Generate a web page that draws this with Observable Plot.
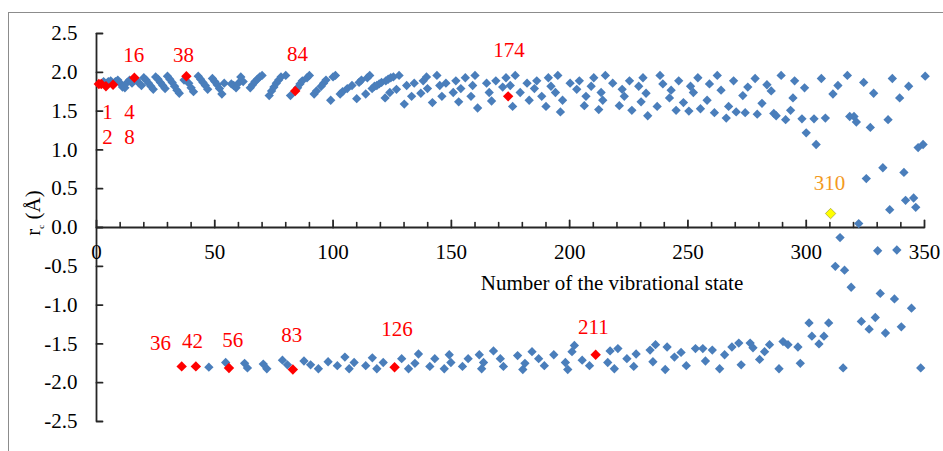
<!DOCTYPE html>
<html><head><meta charset="utf-8">
<script src="https://cdn.jsdelivr.net/npm/d3@7"></script>
<script src="https://cdn.jsdelivr.net/npm/@observablehq/plot@0.6"></script>
<style>
html,body{margin:0;padding:0;background:#fff;overflow:hidden;}
#wrap{position:relative;width:943px;height:451px;overflow:hidden;}
#frame{position:absolute;left:8px;top:12px;width:1000px;height:1000px;border:1.5px solid #8c8c8c;}
#chart{position:absolute;left:0;top:0;}
</style></head><body>
<div id="wrap"><div id="frame"></div><div id="chart"></div></div>
<script>
// ---- data (state number, r) ----
const upperBand = [
[3,1.88],[5,1.88],[6,1.89],[8,1.88],[9,1.90],[10,1.86],[11,1.81],[12,1.80],[13,1.87],[14,1.90],[15,1.86],[17,1.90],[18,1.86],[19,1.83],[20,1.93],[21,1.90],[22,1.86],[23,1.82],[24,1.78],[25,1.94],[26,1.91],[27,1.87],[28,1.83],[29,1.79],[30,1.95],[31,1.91],[32,1.87],[33,1.82],[34,1.77],[35,1.73],[37,1.90],[39,1.86],[40,1.80],[41,1.75],[43,1.95],[44,1.91],[45,1.87],[46,1.83],[47,1.78],[49,1.92],[50,1.88],[51,1.84],[52,1.79],[53,1.72],[54,1.86],[57,1.85],[58,1.83],[59,1.80],[60,1.86],[61,1.94],[62,1.88],[65,1.80],[66,1.84],[67,1.88],[68,1.91],[69,1.94],[70,1.96],[73,1.70],[74,1.76],[75,1.81],[76,1.86],[77,1.90],[78,1.94],[80,1.96],[82,1.70],[85,1.80],[86,1.85],[87,1.89],[89,1.93],[90,1.96],[92,1.72],[93,1.76],[95,1.82],[96,1.86],[97,1.90],[99,1.64],[100,1.94],[101,1.96],[103,1.72],[104,1.75],[106,1.79],[108,1.83],[110,1.66],[111,1.87],[112,1.90],[113.8,1.72],[114.5,1.93],[115.5,1.96],
[116.5,1.79],[117.5,1.82],[118.5,1.83],[119.5,1.85],[120.5,1.87],[122.3,1.89],[123.3,1.91],[124.4,1.93],[125.5,1.94],[127.9,1.96],[122,1.67],[124,1.74],[126.8,1.78],
[130.1,1.59],[131.1,1.83],[133.2,1.69],[134.3,1.86],[137.1,1.73],[138.1,1.89],[139.5,1.94],[139.9,1.79],[142,1.61],[143.9,1.96],[145.1,1.83],[146,1.69],[147.7,1.86],[150.8,1.74],[151.9,1.89],[153.1,1.62],[154,1.79],[155.9,1.93],[158.3,1.69],[159,1.83],[160,1.96],[161.1,1.54],[164.9,1.86],[166,1.74],[167,1.63],[168.8,1.89],[171.7,1.81],[173.1,1.93],[174.9,1.83],[175.9,1.56],[177,1.96],[179.1,1.74],[182,1.86],[182.9,1.64],[185.1,1.79],[186.1,1.89],[188.2,1.69],[190,1.56],[191,1.93],[192.1,1.82],[194,1.74],[195,1.96],[197,1.64],[196.1,1.49],[200.2,1.86],[203,1.78],[204.1,1.89],[206.2,1.57],[206.9,1.69],[209.1,1.82],[210.2,1.93],[212.3,1.52],[213.3,1.74],[214,1.64],[215.1,1.96],[218.2,1.86],[221,1.57],[222.2,1.78],[223.1,1.69],[225.3,1.89],[226.3,1.51],[229.2,1.82],[230.2,1.62],[231,1.93],
[232.3,1.73],[233,1.44],[238.2,1.96],[239.4,1.85],[237,1.56],[242.9,1.77],[242.2,1.67],[245,1.51],[246.1,1.89],[248.1,1.61],[250.4,1.50],[251.1,1.82],[252.3,1.74],[254.2,1.93],[255.3,1.53],[258.1,1.64],[259.1,1.85],[261.2,1.48],[262.4,1.96],[264,1.77],[266.2,1.41],[267.2,1.56],[269.3,1.89],[270.4,1.49],[273.2,1.70],[274.2,1.48],[275.3,1.81],[278.4,1.92],[279.3,1.46],[281.3,1.60],[283.4,1.84],[285.2,1.76],[286.3,1.47],[287.3,1.44],[289.4,1.96],[291.3,1.39],[293.4,1.51],[294.4,1.67],[295.1,1.89],[298.2,1.40],[299.3,1.80],[300,1.22],[303.3,1.40],[304.2,1.07],[306.4,1.92],[308.1,1.41],[311.3,1.72],[313.4,1.83],[317.4,1.96],[318.4,1.43],[320.2,1.43],[321.2,1.36],[324.3,1.87],[327.1,1.29],[328.5,1.73],[334.6,1.39],[336.4,1.92],[339.5,1.67],[343.3,1.82],[347.3,1.03],[349.4,1.07],[350.3,1.95]
];
const middleBand = [
[312.3,-0.50],[314.3,-0.13],[316.2,-0.55],[319,-0.77],[322.2,0.05],[325.4,0.63],[330.2,-0.30],[331.3,-0.85],[332.4,0.77],[335.3,0.23],[337.3,-0.92],[338.3,-0.29],[341.3,0.71],[342,0.35],[345.4,0.38],[346.3,0.26]
];
const lowerBand = [
[47.5,-1.80],[54.6,-1.74],[62.6,-1.75],[63.8,-1.81],[70.5,-1.76],[72,-1.82],[78.6,-1.71],[80.7,-1.77],[87.7,-1.72],[90.5,-1.77],[93.8,-1.82],[97.9,-1.73],[101.8,-1.78],[105,-1.67],[106.8,-1.82],[108.9,-1.74],[113.8,-1.78],[116.6,-1.68],[118.5,-1.82],[121.2,-1.74],[129,-1.69],[131.9,-1.82],[134.6,-1.75],[136.1,-1.63],[140.9,-1.79],[143,-1.69],[147,-1.82],[149.1,-1.64],[149.8,-1.74],[154.7,-1.79],[157.1,-1.69],[161.8,-1.64],[162.8,-1.82],[163.6,-1.74],[167.8,-1.59],[170.7,-1.69],[172,-1.79],[178,-1.65],[180.2,-1.83],[181.1,-1.75],[184.1,-1.60],[186.9,-1.69],[189.3,-1.78],[193.3,-1.64],[198.2,-1.74],[199.2,-1.83],[201,-1.60],[202,-1.52],[205.3,-1.71],[208.4,-1.78],[216.1,-1.74],[217.1,-1.59],[218.9,-1.82],[220.4,-1.56],[224.2,-1.69],[227.1,-1.79],[228.1,-1.63],[234,-1.58],[235.2,-1.73],[236.3,-1.51],[240.4,-1.83],[241.2,-1.54],[244.3,-1.67],[247.1,-1.61],[249.3,-1.78],[253.2,-1.56],[256.3,-1.56],[257.4,-1.72],[260.3,-1.58],[263.4,-1.82],[265.5,-1.64],[268.6,-1.54],[271.5,-1.49],[272.5,-1.77],[276.3,-1.49],[277.5,-1.55],[280.3,-1.70],[282.4,-1.60],[284.5,-1.51],[288.5,-1.82],[290.2,-1.47],[292.3,-1.51],[296.5,-1.54],[297.5,-1.75],[301.2,-1.23],[302.4,-1.40],[305.4,-1.50],[307.5,-1.40],[309.5,-1.23],[315.6,-1.81],[323.3,-1.21],[326.6,-1.31],[329.2,-1.16],[333.5,-1.36],[340.2,-1.28],[344.5,-1.04],[348.4,-1.81]
];
const redStates = [[1,1.85],[2,1.85],[4,1.82],[7,1.84],[16,1.93],[38,1.95],[84,1.76],[174,1.69],[36,-1.79],[42,-1.79],[56,-1.81],[83,-1.83],[126,-1.80],[211,-1.64]];
const yellowState = [[310.3,0.18]];

const labelText = ["1","4","2","8","16","38","84","174","36","42","56","83","126","211"];
const labelX = [4.7,14,4.7,14,15.7,36.8,85,174.4,27.1,40.6,57.6,82.5,127,210];
const labelY = [1.49,1.49,1.16,1.16,2.22,2.22,2.23,2.29,-1.49,-1.46,-1.45,-1.39,-1.31,-1.29];
const yellowLabel = [{text:"310", x:309.8, y:0.57}];

const xTicks = [0,50,100,150,200,250,300,350];
const xTickLabels = ["0","50","100","150","200","250","300","350"];
const xMinor = d3.range(10, 351, 10).filter(v => v % 50 !== 0);
const yTicks = [2.5,2.0,1.5,1.0,0.5,0.0,-0.5,-1.0,-1.5,-2.0,-2.5];
const yTickLabels = ["2.5","2.0","1.5","1.0","0.5","0.0","-0.5","-1.0","-1.5","-2.0","-2.5"];
const xTitle = [{text:"Number of the vibrational state", x:217.9, y:-0.72}];

const axisColor = "#262626";
const blue = "#4a7ebb";
const tickShape = {draw(ctx, l){ ctx.moveTo(0,0); ctx.lineTo(0,-l); }};
const font = "Liberation Serif, Times New Roman, serif";

const plot = Plot.plot({
  width: 943, height: 451,
  marginLeft: 96, marginRight: 19, marginTop: 33, marginBottom: 30,
  x: {domain: [0, 350], axis: null},
  y: {domain: [-2.5, 2.5], axis: null},
  style: {fontFamily: font, background: "transparent", overflow: "visible"},
  marks: [
    Plot.ruleX([0], {stroke: axisColor, strokeWidth: 1.8}),
    Plot.ruleY([0], {stroke: axisColor, strokeWidth: 1.8}),
    Plot.vector(yTicks, {x: 0, y: d => d, length: 6, rotate: 90, anchor: "start", shape: tickShape, stroke: axisColor, strokeWidth: 1.8}),
    Plot.vector(xMinor, {x: d => d, y: 0, length: 5, rotate: 0, anchor: "start", shape: tickShape, stroke: axisColor, strokeWidth: 1.6}),
    Plot.vector(xTicks, {x: d => d, y: 0, length: 7, rotate: 0, anchor: "start", shape: tickShape, stroke: axisColor, strokeWidth: 1.8}),
    Plot.text(yTicks, {x: 0, y: d => d, text: (d, i) => yTickLabels[i], dx: -19, textAnchor: "end", fontSize: 21, fill: "#000"}),
    Plot.text(xTicks, {x: d => d, y: 0, text: (d, i) => xTickLabels[i], dy: 25, fontSize: 21, fill: "#000"}),
    Plot.text(xTitle, {x: "x", y: "y", text: "text", fontSize: 21, fill: "#000"}),
    Plot.dot(upperBand, {x: d => d[0], y: d => d[1], symbol: "diamond2", r: 4.2, fill: blue}),
    Plot.dot(middleBand, {x: d => d[0], y: d => d[1], symbol: "diamond2", r: 4.2, fill: blue}),
    Plot.dot(lowerBand, {x: d => d[0], y: d => d[1], symbol: "diamond2", r: 4.2, fill: blue}),
    Plot.dot(redStates, {x: d => d[0], y: d => d[1], symbol: "diamond2", r: 4.7, fill: "#ff0000"}),
    Plot.dot(yellowState, {x: d => d[0], y: d => d[1], symbol: "diamond2", r: 4.7, fill: "#ffff00", stroke: "#a8a840", strokeWidth: 0.8}),
    Plot.text(labelText, {x: (d, i) => labelX[i], y: (d, i) => labelY[i], text: d => d, fontSize: 21, fill: "#ff0000"}),
    Plot.text(yellowLabel, {x: "x", y: "y", text: "text", fontSize: 21, fill: "#f39a1e"})
  ]
});
document.getElementById("chart").appendChild(plot);

// y-axis label with subscript
const svg = d3.select(plot);
const t = svg.append("text")
  .attr("transform", "translate(40,213) rotate(-90)")
  .attr("text-anchor", "middle")
  .attr("font-family", font)
  .attr("font-size", 21)
  .attr("fill", "#000");
t.append("tspan").text("r");
t.append("tspan").attr("font-size", 9).attr("dy", 4).text("c");
t.append("tspan").attr("dy", -4).text(" (Å)");
</script></body></html>
